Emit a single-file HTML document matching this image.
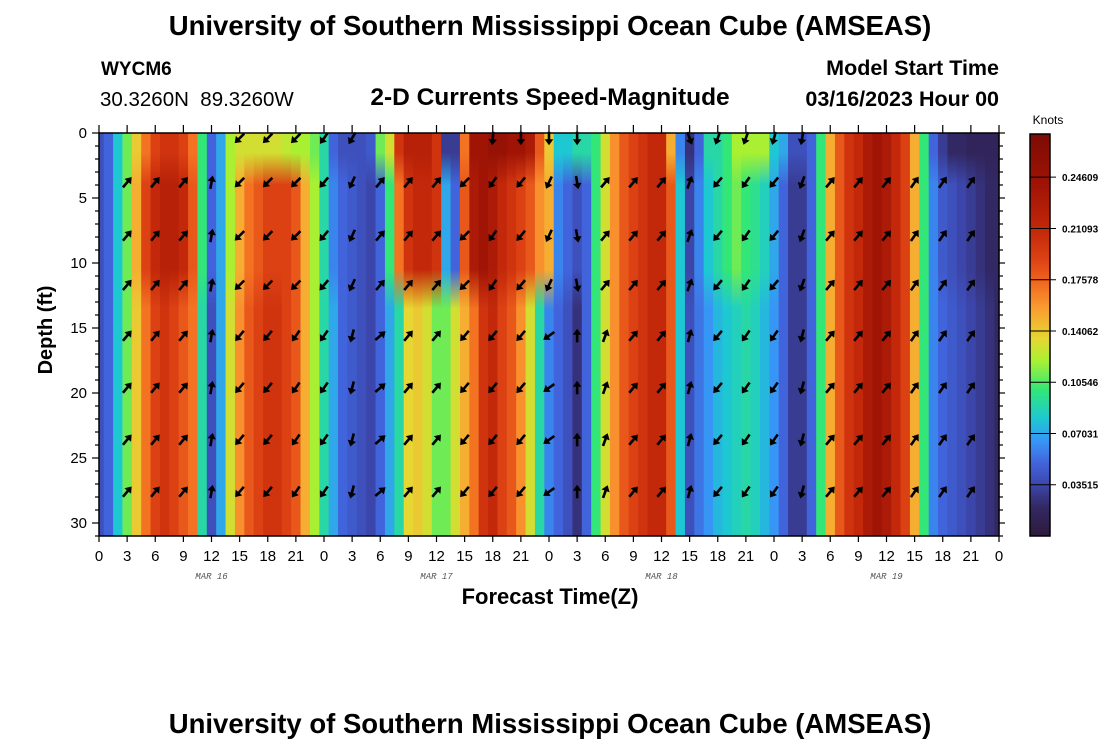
<!DOCTYPE html>
<html><head><meta charset="utf-8"><style>
html,body{margin:0;padding:0;background:#fff}
svg{display:block}
</style></head><body>
<svg id="chart" width="1100" height="750" viewBox="0 0 1100 750" font-family="Liberation Sans, Arial, sans-serif">
<defs id="defs"></defs>
<text x="550" y="35" text-anchor="middle" font-size="27.5" font-weight="bold">University of Southern Mississippi Ocean Cube (AMSEAS)</text>
<text x="101" y="75" font-size="19" font-weight="bold">WYCM6</text>
<text x="100" y="106" font-size="20.5" xml:space="preserve">30.3260N  89.3260W</text>
<text x="550" y="105" text-anchor="middle" font-size="24.5" font-weight="bold">2-D Currents Speed-Magnitude</text>
<text x="999" y="75" text-anchor="end" font-size="21.5" font-weight="bold">Model Start Time</text>
<text x="999" y="106" text-anchor="end" font-size="21.5" font-weight="bold">03/16/2023 Hour 00</text>
<g id="heat"></g>
<g id="arrows"></g>
<rect x="99" y="133" width="900" height="403" fill="none" stroke="#000" stroke-width="1.5"/>
<g id="axes"></g>
<text transform="translate(52,330) rotate(-90)" text-anchor="middle" font-size="20" font-weight="bold">Depth (ft)</text>
<text x="550" y="604" text-anchor="middle" font-size="22" font-weight="bold">Forecast Time(Z)</text>
<g id="cbar"></g>
<text x="1048" y="124" text-anchor="middle" font-size="12">Knots</text>
<text x="550" y="733" text-anchor="middle" font-size="27.5" font-weight="bold">University of Southern Mississippi Ocean Cube (AMSEAS)</text>
</svg>
<script>
// speeds (knots) per forecast hour 0..96
const surfaceSpeed=[0.04,0.05,0.08,0.11,0.14,0.17,0.19,0.2,0.2,0.19,0.17,0.1,0.05,0.07,0.12,0.13,0.13,0.13,0.13,0.13,0.125,0.12,0.12,0.11,0.09,0.05,0.04,0.04,0.04,0.045,0.11,0.13,0.2,0.22,0.22,0.22,0.2,0.03,0.03,0.17,0.24,0.24,0.25,0.25,0.24,0.24,0.23,0.18,0.14,0.08,0.08,0.09,0.09,0.1,0.13,0.16,0.18,0.19,0.2,0.21,0.21,0.15,0.06,0.025,0.05,0.09,0.09,0.1,0.12,0.12,0.12,0.12,0.08,0.07,0.04,0.04,0.05,0.1,0.15,0.18,0.2,0.21,0.23,0.24,0.23,0.21,0.19,0.15,0.1,0.05,0.03,0.02,0.02,0.015,0.015,0.015,0.015];
const upperSpeed=[0.04,0.05,0.08,0.11,0.15,0.19,0.21,0.22,0.22,0.21,0.18,0.1,0.05,0.07,0.12,0.15,0.17,0.18,0.19,0.19,0.19,0.18,0.15,0.12,0.09,0.06,0.05,0.045,0.04,0.035,0.05,0.1,0.17,0.2,0.21,0.21,0.2,0.07,0.05,0.18,0.23,0.24,0.23,0.21,0.2,0.19,0.18,0.16,0.15,0.06,0.05,0.04,0.05,0.1,0.13,0.16,0.18,0.19,0.2,0.21,0.21,0.18,0.08,0.035,0.06,0.08,0.09,0.1,0.11,0.1,0.095,0.085,0.07,0.05,0.03,0.03,0.05,0.1,0.15,0.18,0.2,0.21,0.23,0.24,0.23,0.21,0.19,0.15,0.1,0.06,0.045,0.04,0.035,0.03,0.025,0.02,0.02];
const deepSpeed=[0.04,0.05,0.08,0.11,0.14,0.17,0.19,0.2,0.19,0.18,0.17,0.09,0.04,0.07,0.13,0.16,0.18,0.19,0.2,0.2,0.19,0.18,0.15,0.12,0.09,0.07,0.05,0.045,0.04,0.035,0.05,0.07,0.09,0.135,0.14,0.13,0.11,0.11,0.13,0.15,0.17,0.2,0.21,0.19,0.18,0.16,0.13,0.09,0.06,0.05,0.04,0.025,0.05,0.1,0.13,0.16,0.18,0.19,0.2,0.21,0.21,0.18,0.08,0.04,0.055,0.065,0.075,0.08,0.085,0.09,0.085,0.075,0.065,0.05,0.03,0.03,0.05,0.1,0.15,0.18,0.2,0.21,0.23,0.24,0.23,0.21,0.19,0.15,0.1,0.06,0.05,0.045,0.04,0.035,0.03,0.025,0.02];
// arrow directions (compass degrees) at hours 3..93 step 3
const arrowHours=[3,6,9,12,15,18,21,24,27,30,33,36,39,42,45,48,51,54,57,60,63,66,69,72,75,78,81,84,87,90,93];
const upperDir=[40,40,40,10,225,225,225,220,205,40,40,40,225,215,220,205,170,40,40,40,20,220,215,220,200,40,40,40,35,35,35];
const lowerDir=[40,40,40,10,220,220,215,215,195,50,40,40,220,220,220,235,0,20,40,40,15,220,215,215,195,40,40,40,35,35,35];
const surfaceArrowHours=[15,18,21,24,27,42,45,48,51,63,66,69,72,75];
const surfaceArrowDir=[225,225,225,215,210,185,180,180,180,160,200,200,195,190];
const arrowDepths=[3.8,7.9,11.7,15.6,19.6,23.6,27.6];
const depthTicks=[0,5,10,15,20,25,30];
const cbarTicks=[0.03515,0.07031,0.10546,0.14062,0.17578,0.21093,0.24609];
const dayLabels=["MAR 16","MAR 17","MAR 18","MAR 19"];

const NS='http://www.w3.org/2000/svg';
const X0=99,X1=999,Y0=133;
const xS=h=>X0+h*(X1-X0)/96;
const yS=d=>Y0+d*13;
const stops=[[0,[45,25,60]],[0.02,[50,40,100]],[0.035,[60,70,170]],[0.05,[65,100,220]],[0.065,[55,150,245]],[0.08,[30,200,210]],[0.1,[50,230,120]],[0.12,[170,240,50]],[0.135,[230,215,50]],[0.155,[250,160,50]],[0.175,[240,100,30]],[0.19,[220,65,20]],[0.21,[195,40,10]],[0.24,[160,20,5]],[0.28,[120,10,5]]];
function col(v){
  if(v<=0)return 'rgb(45,25,60)';
  for(let i=1;i<stops.length;i++){
    if(v<=stops[i][0]){const a=stops[i-1],b=stops[i],t=(v-a[0])/(b[0]-a[0]);
      return 'rgb('+a[1].map((c,k)=>Math.round(c+(b[1][k]-c)*t)).join(',')+')';}
  }
  return 'rgb(120,10,5)';
}
function mk(tag,attrs,parent){const e=document.createElementNS(NS,tag);for(const k in attrs)e.setAttribute(k,attrs[k]);parent.appendChild(e);return e;}

const heat=document.getElementById('heat');
const defs=document.getElementById('defs');
for(let h=0;h<=96;h++){
  const g=mk('linearGradient',{id:'g'+h,gradientUnits:'userSpaceOnUse',x1:0,x2:0,y1:yS(0),y2:yS(31)},defs);
  const pts=[[0,surfaceSpeed[h]],[1.5,surfaceSpeed[h]],[4,upperSpeed[h]],[10.5,upperSpeed[h]],[13.5,deepSpeed[h]],[31,deepSpeed[h]]];
  pts.forEach(p=>mk('stop',{offset:p[0]/31,'stop-color':col(p[1])},g));
  const xa=Math.max(X0,xS(h-0.5)),xb=Math.min(X1,xS(h+0.5));
  const r=mk('rect',{x:xa,y:yS(0),width:xb-xa+0.6,height:yS(31)-yS(0),fill:'url(#g'+h+')'},heat);
  
  
}

const arrows=document.getElementById('arrows');
function arrow(x,y,deg){
  const g=mk('g',{transform:'translate('+x+','+y+') rotate('+deg+')'},arrows);
  
  
  mk('line',{x1:0,y1:6.5,x2:0,y2:-2,stroke:'#000','stroke-width':2.6},g);
  mk('polygon',{points:'0,-7 -4.3,-1 4.3,-1',fill:'#000'},g);
}
arrowHours.forEach((h,i)=>{
  arrowDepths.forEach((d,j)=>{arrow(xS(h),yS(d),j<3?upperDir[i]:lowerDir[i]);});
});
surfaceArrowHours.forEach((h,i)=>arrow(xS(h),yS(0.4),surfaceArrowDir[i]));

const axes=document.getElementById('axes');
for(let d=0;d<=31;d++){
  const big=d%5===0;
  mk('line',{x1:X0-(big?7:4),x2:X0,y1:yS(d),y2:yS(d),stroke:'#000','stroke-width':1.2},axes);
  mk('line',{x1:X1,x2:X1+(big?6:4),y1:yS(d),y2:yS(d),stroke:'#000','stroke-width':1.2},axes);
}
depthTicks.forEach(d=>{
  const t=mk('text',{x:87,y:yS(d)+5,'text-anchor':'end','font-size':15},axes);
  t.textContent=d;
  
  
});
for(let h=0;h<=96;h+=3){
  mk('line',{x1:xS(h),x2:xS(h),y1:Y0-8,y2:Y0,stroke:'#000','stroke-width':1.2},axes);
  mk('line',{x1:xS(h),x2:xS(h),y1:yS(31),y2:yS(31)+6,stroke:'#000','stroke-width':1.2},axes);
  const t=mk('text',{x:xS(h),y:561,'text-anchor':'middle','font-size':15},axes);
  t.textContent=h%24;
  
  
}
dayLabels.forEach((s,i)=>{
  const t=mk('text',{x:xS(12+24*i),y:579,'text-anchor':'middle','font-size':9,'font-style':'italic',fill:'#555','font-family':'Liberation Mono, monospace'},axes);
  t.textContent=s;
  
  
});

const cb=document.getElementById('cbar');
const CB0=134,CB1=536,VMAX=0.2757;
const cy=v=>CB1-(v/VMAX)*(CB1-CB0);
for(let y=CB0;y<CB1;y+=2){
  mk('rect',{x:1030,y:y,width:20,height:2.5,fill:col((CB1-y-1)/(CB1-CB0)*VMAX)},cb);
}
mk('rect',{x:1030,y:CB0,width:20,height:CB1-CB0,fill:'none',stroke:'#000','stroke-width':1.5},cb);
cbarTicks.forEach(v=>{
  mk('line',{x1:1030,x2:1056,y1:cy(v),y2:cy(v),stroke:'#000','stroke-width':1},cb);
  const t=mk('text',{x:1062,y:cy(v)+4,'font-size':10,'font-weight':'bold'},cb);
  t.textContent=v.toFixed(5);
  
  
});
</script>
</body></html>
